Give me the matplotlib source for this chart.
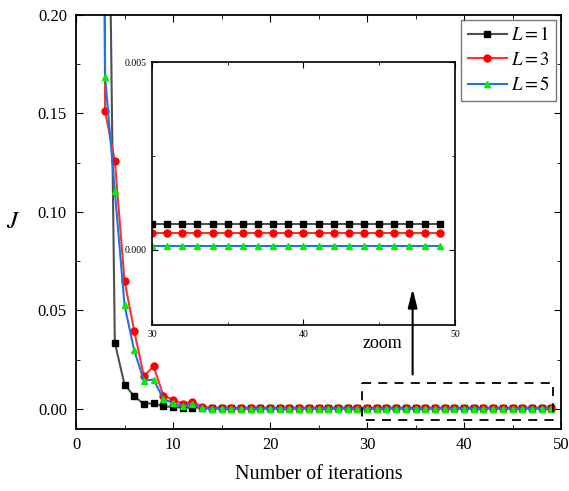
import numpy as np
import matplotlib.pyplot as plt
from matplotlib.ticker import MultipleLocator

plt.rcParams["font.family"] = ["Liberation Serif", "DejaVu Serif"]
plt.rcParams["mathtext.fontset"] = "stix"

# iterations and objective J for each L
iters = np.arange(1, 50)
J_L1 = [2.0, 1.2, 0.43, 0.0337, 0.0124, 0.0064, 0.0025, 0.0030, 0.0013, 0.0010,
        0.0007, 0.0007] + [0.0007] * 37
J_L3 = [2.0, 1.2, 0.151, 0.126, 0.065, 0.0396, 0.0166, 0.0217, 0.0068, 0.0047,
        0.0027, 0.0037, 0.0010] + [0.00045] * 36
J_L5 = [2.0, 1.2, 0.1687, 0.1107, 0.0527, 0.0297, 0.0144, 0.0149, 0.0051, 0.0030,
        0.0015, 0.0027, 0.0003] + [0.0001] * 36

labels = ["$L=1$", "$L=3$", "$L=5$"]
line_colors = ["#505050", "#ff3030", "#1f74e0"]
mk_colors = ["black", "red", "#00ee00"]
markers = ["s", "o", "^"]
series = [J_L1, J_L3, J_L5]

fig = plt.figure(figsize=(5.69, 4.91), dpi=100)
ax = fig.add_axes([0.1336, 0.127, 0.8524, 0.8425])

for y, lab, lc, mc, m in zip(series, labels, line_colors, mk_colors, markers):
    ax.plot(iters, y, color=lc, lw=1.5, marker=m, ms=5, mfc=mc, mec=mc, label=lab)

ax.set_xlim(0, 50)
ax.set_ylim(-0.01, 0.20)
ax.xaxis.set_major_locator(MultipleLocator(10))
ax.xaxis.set_minor_locator(MultipleLocator(5))
ax.yaxis.set_major_locator(MultipleLocator(0.05))
ax.yaxis.set_minor_locator(MultipleLocator(0.025))
ax.yaxis.set_major_formatter(plt.FormatStrFormatter("%.2f"))
ax.tick_params(which="both", direction="in", top=True, right=True, labelsize=12)
ax.tick_params(which="major", length=5)
ax.tick_params(which="minor", length=3)
ax.tick_params(axis="y", which="major", pad=6.5)
ax.tick_params(axis="x", which="major", pad=6)
for s in ax.spines.values():
    s.set_linewidth(1.3)
ax.set_xlabel("Number of iterations", fontsize=14.5, labelpad=9)
ax.set_ylabel("$J$", fontsize=18, rotation=0, va="center", labelpad=18)

leg = ax.legend(loc="upper right", fontsize=13.5, frameon=True, fancybox=False,
                edgecolor="#555555", handlelength=2.1, borderpad=0.35,
                labelspacing=0.4, handletextpad=0.2, borderaxespad=0.25)
leg.get_frame().set_linewidth(1.0)

# dashed zoom box
ax.plot([29.5, 49.2, 49.2, 29.5, 29.5], [0.0134, 0.0134, -0.0055, -0.0055, 0.0134],
        color="black", ls=(0, (5, 4)), lw=1.3)
ax.text(29.5, 0.033, "zoom", fontsize=13, va="center")

# inset
ins = fig.add_axes([0.267, 0.338, 0.5325, 0.5356])
for y, lc, mc, m in zip(series, line_colors, mk_colors, markers):
    ins.plot(iters[29:], y[29:], color=lc, lw=1.5, marker=m, ms=5, mfc=mc, mec=mc)
ins.set_xlim(30, 50)
ins.set_ylim(-0.002, 0.005)
ins.xaxis.set_major_locator(MultipleLocator(10))
ins.xaxis.set_minor_locator(MultipleLocator(5))
ins.yaxis.set_major_locator(MultipleLocator(0.005))
ins.yaxis.set_minor_locator(MultipleLocator(0.0025))
ins.yaxis.set_major_formatter(plt.FormatStrFormatter("%.3f"))
ins.tick_params(which="both", direction="in", top=True, right=True, labelsize=7)
ins.tick_params(which="major", length=4)
ins.tick_params(which="minor", length=2.5)
for s in ins.spines.values():
    s.set_linewidth(1.2)

# arrow drawn over the inset
ins.annotate("", xy=(34.7, 0.061), xytext=(34.7, 0.0175),
             xycoords=ax.transData, textcoords=ax.transData, annotation_clip=False,
             arrowprops=dict(arrowstyle="-|>,head_length=0.8,head_width=0.2",
                             color="black", lw=1.5, mutation_scale=14, shrinkA=0, shrinkB=0))

fig.savefig("out.png", dpi=100)
